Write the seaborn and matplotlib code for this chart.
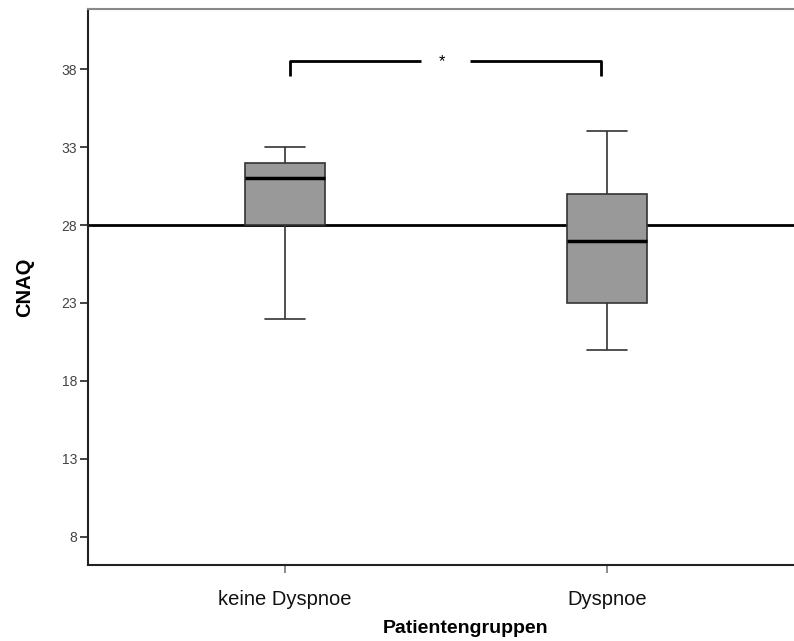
import numpy as np
import pandas as pd
import matplotlib
matplotlib.use("Agg")
import matplotlib.pyplot as plt
import seaborn as sns

# Data (five-number summaries)
groups = ["keine Dyspnoe", "Dyspnoe"]
keine_dyspnoe = [22, 28, 31, 32, 33]   # min, Q1, median, Q3, max
dyspnoe = [20, 23, 27, 30, 34]
reference_value = 28
yticks = [8, 13, 18, 23, 28, 33, 38]
sig_label = "*"

df = pd.DataFrame({
    "Patientengruppen": [groups[0]] * len(keine_dyspnoe) + [groups[1]] * len(dyspnoe),
    "CNAQ": keine_dyspnoe + dyspnoe,
})

sns.set_style("white")
plt.rcParams["font.family"] = ["Liberation Sans", "DejaVu Sans"]

fig = plt.figure(figsize=(7.94, 6.41), dpi=100)
ax = fig.add_axes([88 / 794, 76 / 641, 1 - 88 / 794, (565 - 9) / 641])

edge = "#333333"
sns.boxplot(
    data=df, x="Patientengruppen", y="CNAQ", order=groups,
    color="#999999", saturation=1, width=0.25, whis=np.inf,
    linecolor=edge, linewidth=1.2,
    medianprops=dict(color="black", linewidth=2.5),
    ax=ax, zorder=3,
)
for p in ax.patches:
    p.set_facecolor("#999999")

ax.axhline(reference_value, color="black", linewidth=2, zorder=2)

# significance bracket
y_top = 38.5
y_bot = 37.55
x0, x1 = 0.016, 0.98
xm = 0.5 * (x0 + x1)
gap = 0.075
ax.plot([x0, x0, xm - gap], [y_bot, y_top, y_top], color="black", lw=2, solid_capstyle="butt", zorder=4)
ax.plot([xm + gap, x1, x1], [y_top, y_top, y_bot], color="black", lw=2, solid_capstyle="butt", zorder=4)
ax.text(xm - 0.01, y_top, sig_label, ha="center", va="center", fontsize=12, color="black")

ax.set_xlim(-0.612, 1.58)
ax.set_ylim(6.2, 41.85)
ax.set_yticks(yticks)
ax.set_yticklabels([str(t) for t in yticks], fontsize=10, color="#444444")
ax.tick_params(axis="y", which="both", left=True, length=6, width=1.2, color="#222222", pad=2)
ax.tick_params(axis="x", which="both", bottom=True, length=6, width=1.2, color="#777777", pad=12,
               labelsize=14.5, labelcolor="#111111")

for side in ["left", "bottom"]:
    ax.spines[side].set_color("#222222")
    ax.spines[side].set_linewidth(1.5)
ax.spines["top"].set_color("#888888")
ax.spines["top"].set_linewidth(1.5)
ax.spines["right"].set_visible(False)

ax.set_xlabel("Patientengruppen", fontsize=14, fontweight="bold", color="black")
ax.xaxis.set_label_coords((466 - 88) / 706, -(620 - 565) / 556)
ax.set_ylabel("CNAQ", fontsize=14.5, fontweight="bold", color="black")
ax.yaxis.set_label_coords(-(88 - 34) / 706, (565 - 287) / 556)

fig.savefig("out.png", dpi=100)
